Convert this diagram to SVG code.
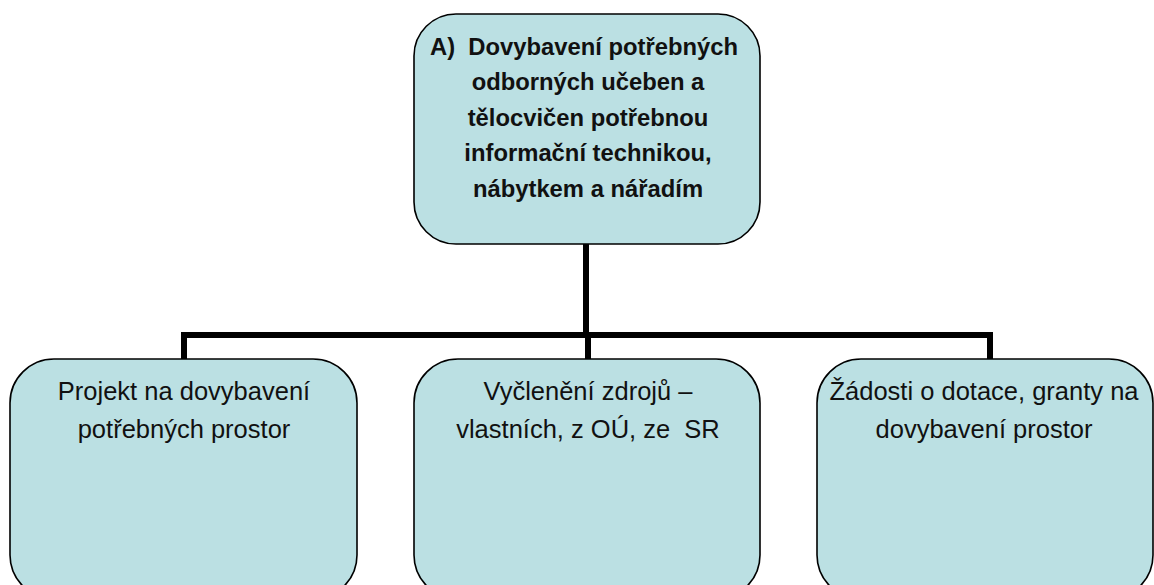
<svg xmlns="http://www.w3.org/2000/svg" width="1154" height="585" viewBox="0 0 1154 585">
<style>
.box{fill:#BBE0E3;stroke:#000;stroke-width:1.6}
.t{font-family:"Liberation Sans",Arial,sans-serif;font-size:25.5px;fill:#111;text-anchor:middle}
.b{font-weight:bold;font-size:23.8px}
.conn{fill:none;stroke:#000;stroke-width:6}
</style>
<rect width="1154" height="585" fill="#fff"/>
<g id="connectors">
<path class="conn" d="M586 244 V335"/>
<path class="conn" d="M184 360 V335 H990 V360 M588 335 V360"/>
</g>
<g id="top">
<rect class="box" x="414" y="14" width="346" height="230" rx="42"/>
<text class="t b" x="584" y="55" xml:space="preserve">A)  Dovybavení potřebných</text>
<text class="t b" x="588" y="90">odborných učeben a</text>
<text class="t b" x="588" y="126">tělocvičen potřebnou</text>
<text class="t b" x="588" y="161">informační technikou,</text>
<text class="t b" x="588" y="197">nábytkem a nářadím</text>
</g>
<g id="left">
<rect class="box" x="10" y="359" width="347" height="240" rx="44"/>
<text class="t" x="184" y="400">Projekt na dovybavení</text>
<text class="t" x="184" y="438">potřebných prostor</text>
</g>
<g id="middle">
<rect class="box" x="414" y="359" width="346" height="240" rx="44"/>
<text class="t" x="588" y="400">Vyčlenění zdrojů –</text>
<text class="t" x="588" y="438" xml:space="preserve">vlastních, z OÚ, ze  SR</text>
</g>
<g id="right">
<rect class="box" x="817" y="359" width="336" height="240" rx="44"/>
<text class="t" x="984" y="400">Žádosti o dotace, granty na</text>
<text class="t" x="984" y="438">dovybavení prostor</text>
</g>
</svg>
